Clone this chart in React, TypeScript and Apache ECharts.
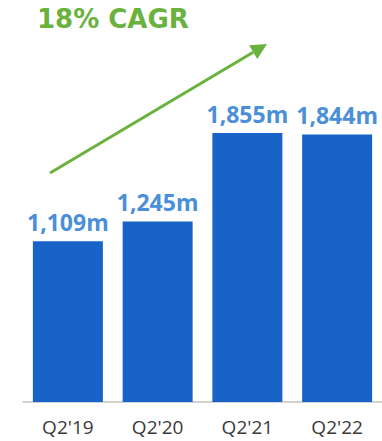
import React, { useEffect, useRef } from "react";
import * as echarts from "echarts";

const categories = ["Q2'19", "Q2'20", "Q2'21", "Q2'22"];
const revenue = [1109, 1245, 1855, 1844];
const titleText = "18% CAGR";

export default function App() {
  const ref = useRef<HTMLDivElement>(null);
  useEffect(() => {
    if (!ref.current) return;
    const chart = echarts.init(ref.current, undefined, { renderer: "svg" });
    const green = "#6ab23e";
    chart.setOption({
      animation: false,
      backgroundColor: "#ffffff",
      grid: { left: 23, right: -1, top: 112, bottom: 39, containLabel: false },
      xAxis: {
        type: "category",
        data: categories,
        axisLine: { show: true, lineStyle: { color: "#c4c4c4", width: 1.5 } },
        axisTick: { show: false },
        axisLabel: {
          color: "#3a3a3a",
          fontFamily: "Open Sans",
          fontSize: 19,
          margin: 15,
        },
      },
      yAxis: {
        type: "value",
        min: 0,
        max: 2000,
        show: false,
        splitLine: { show: false },
      },
      series: [
        {
          type: "bar",
          data: revenue,
          barWidth: 70,
          itemStyle: { color: "#1763c8" },
          label: {
            show: true,
            position: "top",
            distance: 8,
            color: "#4b8fd9",
            fontFamily: "Open Sans",
            fontWeight: "bold",
            fontSize: 23,
            formatter: (p: any) => p.value.toLocaleString("en-US") + "m",
          },
        },
      ],
      graphic: [
        {
          type: "text",
          left: 37,
          top: 6,
          style: {
            text: titleText,
            fill: green,
            font: "bold 26px 'DejaVu Sans'",
          },
        },
        {
          type: "line",
          shape: { x1: 50, y1: 173, x2: 253.2, y2: 52.2 },
          style: { stroke: green, lineWidth: 3 },
        },
        {
          type: "polygon",
          shape: {
            points: [
              [267, 44],
              [257.3, 59.1],
              [249.1, 45.3],
            ],
          },
          style: { fill: green },
        },
      ],
    });
    return () => chart.dispose();
  }, []);
  return (
    <div
      ref={ref}
      style={{ position: "fixed", left: 0, top: 0, width: 382, height: 441 }}
    />
  );
}
